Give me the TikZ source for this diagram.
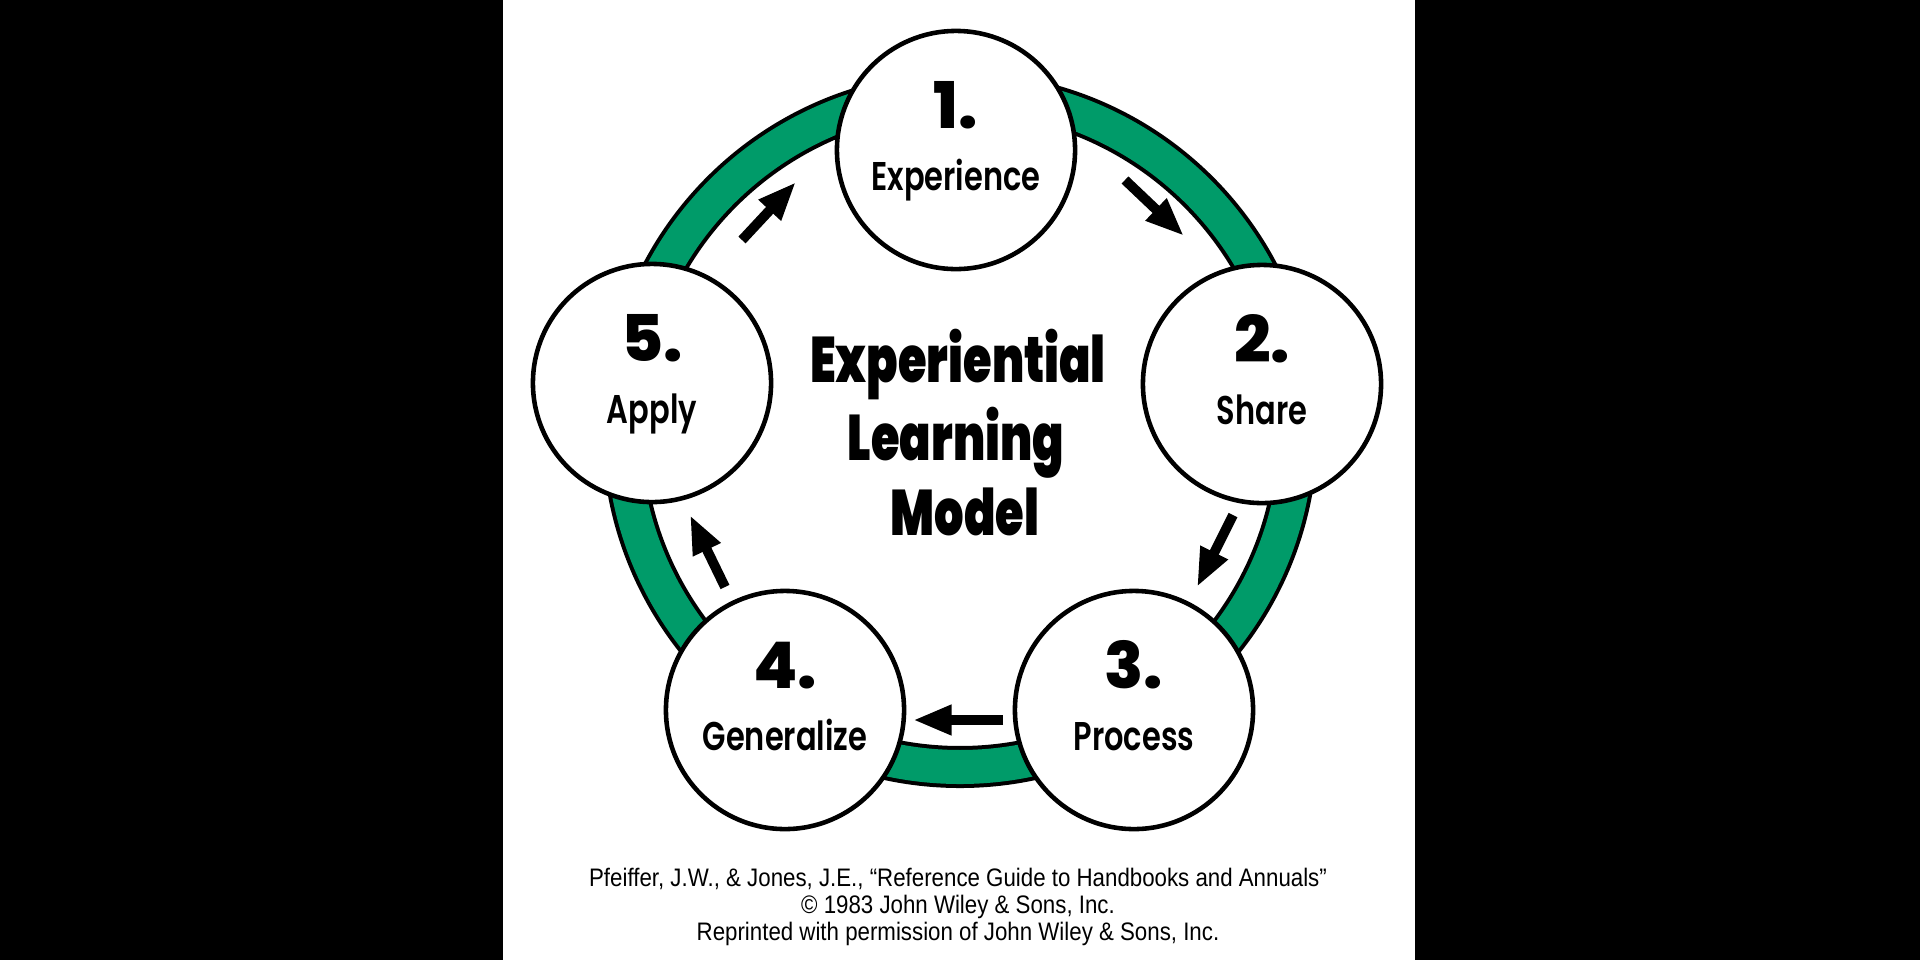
\documentclass[tikz,border=0pt]{standalone}
\usepackage{fontspec}
\usetikzlibrary{arrows.meta}
\newfontfamily\numfont{Poppins ExtraBold}
\newfontfamily\stepfont[FakeStretch=0.76]{Poppins SemiBold}
\newfontfamily\titlefont[FakeStretch=0.72]{Poppins Black}
\newfontfamily\creditfont[FakeStretch=0.88]{Liberation Sans}
\definecolor{ringgreen}{RGB}{0,155,105}
\tikzset{
  stage/.style={circle,draw=black,line width=1.3pt,fill=white,minimum size=2.38cm,inner sep=0pt},
  stagenum/.style={anchor=base,inner sep=0pt,font=\numfont\fontsize{18.3}{20}\selectfont},
  stagetxt/.style={anchor=base,inner sep=0pt,font=\stepfont\fontsize{11.4}{13}\selectfont},
  titleline/.style={anchor=base,inner sep=0pt,font=\titlefont\fontsize{18.3}{20}\selectfont},
  credit/.style={anchor=base,inner sep=0pt,font=\creditfont\fontsize{7.2}{9}\selectfont},
  flow/.style={line width=2.8pt,-{Triangle[width=8pt,length=11pt]}}
}
\begin{document}
\begin{tikzpicture}[x=0.01cm,y=-0.01cm]
        % black bands and the white page
        \fill[black] (0,0) rectangle (1920,960);
        \fill[white] (503,0) rectangle (1415,960);
        \useasboundingbox (0,0) rectangle (1920,960);
        % the green ring
        \coordinate (hub) at (960,430);
        \draw[black,line width=0.42cm] (hub) circle[radius=337];
        \draw[ringgreen,line width=0.34cm] (hub) circle[radius=337];
        % the five stages
        \node[stage] (s1) at (956,150) {};
        \node[stage] (s2) at (1262,384) {};
        \node[stage] (s3) at (1134,710) {};
        \node[stage] (s4) at (785,710) {};
        \node[stage] (s5) at (652,383) {};
        \foreach \n/\txt in {1/Experience,2/Share,3/Process,4/Generalize,5/Apply} {
                \node[stagenum] (n\n) at ([yshift=0.21cm]s\n.center) {\n.};
                \node[stagetxt] (t\n) at ([yshift=-0.40cm]s\n.center) {\txt};
                }
        % arrows between the stages
        \foreach \i/\a/\b in {
            1/{1125,180}/{1184,236},
            2/{1233,515}/{1197,587},
            3/{1003,720}/{913,720},
            4/{725,587}/{690,515},
            5/{742,240}/{796,182}} {
                \coordinate (f\i a) at (\a);
                \coordinate (f\i b) at (\b);
                \draw[flow] (f\i a) -- (f\i b);
                }
        % title in the middle
        \node[titleline] (title1) at (958,382) {Experiential};
        \node[titleline] (title2) at (956,460) {Learning};
        \node[titleline] (title3) at (965,535) {Model};
        % source lines
        \node[credit] (src1) at (958,886) {Pfeiffer, J.W., \& Jones, J.E., “Reference Guide to Handbooks and Annuals”};
        \node[credit] (src2) at (958,913) {© 1983 John Wiley \& Sons, Inc.};
        \node[credit] (src3) at (958,940) {Reprinted with permission of John Wiley \& Sons, Inc.};
\end{tikzpicture}
\end{document}
